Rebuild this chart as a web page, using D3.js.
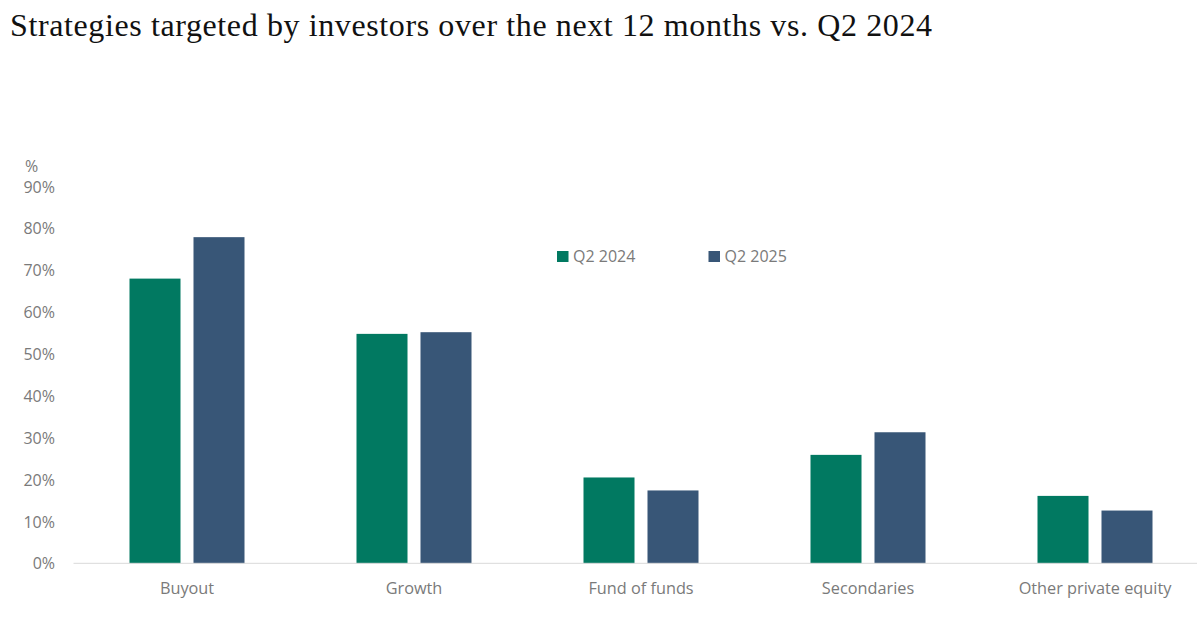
<!DOCTYPE html>
<html>
<head>
<meta charset="utf-8">
<script src="https://cdn.jsdelivr.net/npm/d3@7"></script>
<style>
  html, body { margin: 0; padding: 0; background: #fff; }
  svg { display: block; }
</style>
</head>
<body>
<svg id="chart" width="1197" height="620"></svg>
<script>
const categories = ["Buyout", "Growth", "Fund of funds", "Secondaries", "Other private equity"];
const seriesNames = ["Q2 2024", "Q2 2025"];
const q2024 = [68, 54.8, 20.5, 25.9, 16.1];
const q2025 = [77.9, 55.2, 17.4, 31.3, 12.6];
const yTicks = [0, 10, 20, 30, 40, 50, 60, 70, 80, 90];
const colors = ["#017961", "#385677"];

const seriesValues = [q2024, q2025];
const data = categories.map((c, i) => ({
  category: c,
  values: seriesNames.map((s, j) => ({ series: s, value: seriesValues[j][i] }))
}));

const svg = d3.select("#chart");
const W = 1197, H = 620;
const plotLeft = 73.5, plotRight = 1208.5, plotTop = 186.5, plotBottom = 563.3;

const font = "'Open Sans', 'Noto Sans', sans-serif";
const fs = 16;
const textColor = "#7a7a7a";

// Title
svg.append("text")
  .attr("x", 10).attr("y", 36)
  .attr("font-family", "'Liberation Serif', 'DejaVu Serif', serif")
  .attr("font-size", 32)
  .attr("fill", "#111")
  .attr("textLength", 922)
  .attr("lengthAdjust", "spacing")
  .text("Strategies targeted by investors over the next 12 months vs. Q2 2024");

const x0 = d3.scaleBand().domain(categories).range([plotLeft, plotRight])
  .paddingInner(0.4934).paddingOuter(0.2467);
const x1 = d3.scaleBand().domain(seriesNames).range([0, x0.bandwidth()]).paddingInner(0.203);
const y = d3.scaleLinear().domain([0, 90]).range([plotBottom, plotTop]);
const color = d3.scaleOrdinal().domain(seriesNames).range(colors);

// Y axis labels
const yAxis = d3.axisLeft(y).tickValues(yTicks).tickFormat(d => d + "%").tickSize(0).tickPadding(0);
const yg = svg.append("g").attr("transform", `translate(55,0.5)`).call(yAxis);
yg.select(".domain").remove();
yg.selectAll("text").attr("font-family", font).attr("font-size", fs).attr("fill", textColor);

svg.append("text").attr("x", 25).attr("y", 172)
  .attr("font-family", font).attr("font-size", fs).attr("fill", textColor).text("%");

// Bars
const groups = svg.append("g").selectAll("g").data(data).join("g")
  .attr("transform", d => `translate(${x0(d.category)},0)`);
groups.selectAll("rect").data(d => d.values).join("rect")
  .attr("x", d => x1(d.series))
  .attr("width", x1.bandwidth())
  .attr("y", d => y(d.value))
  .attr("height", d => y(0) - y(d.value))
  .attr("fill", d => color(d.series));

// X axis
const xAxis = d3.axisBottom(x0).tickSize(0).tickPadding(19);
const xg = svg.append("g").attr("transform", `translate(0,${plotBottom})`).call(xAxis);
xg.select(".domain").remove();
xg.selectAll("text").attr("font-family", font).attr("font-size", fs + 0.3).attr("fill", textColor);
svg.append("line").attr("x1", plotLeft).attr("x2", W).attr("y1", plotBottom).attr("y2", plotBottom)
  .attr("stroke", "#d9d9d9").attr("stroke-width", 1);

// Legend
const legendX = [557, 708.5];
const lg = svg.append("g").selectAll("g").data(seriesNames).join("g")
  .attr("transform", (d, i) => `translate(${legendX[i]},251)`);
lg.append("rect").attr("width", 11.5).attr("height", 11).attr("fill", d => color(d));
lg.append("text").attr("x", 16).attr("y", 5.5).attr("dy", "0.35em")
  .attr("font-family", font).attr("font-size", fs).attr("fill", textColor).text(d => d);
</script>
</body>
</html>
